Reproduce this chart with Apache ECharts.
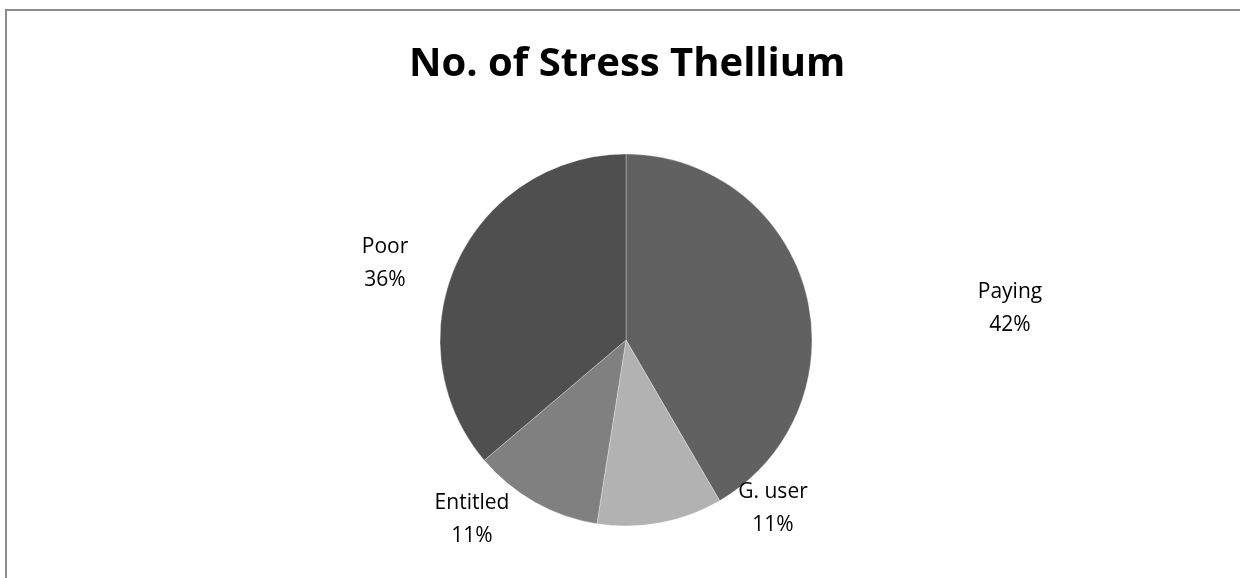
<!DOCTYPE html>
<html>
<head>
<meta charset="utf-8">
<script src="https://cdn.jsdelivr.net/npm/echarts@6/dist/echarts.min.js"></script>
<style>
  html, body { margin: 0; padding: 0; background: #fff; }
  #chart { width: 1240px; height: 578px; }
</style>
</head>
<body>
<div id="chart"></div>
<script>
// slice names and shares
const categories = ['Paying', 'G. user', 'Entitled', 'Poor']
const values = [41.6, 10.9, 11.3, 36.2]
const colors = ['#616161', '#b2b2b2', '#808080', '#4f4f4f']

// label centres (x, y) per slice
const labelPos = [[1010, 309], [773, 509], [472, 520], [385, 264]]

const chart = echarts.init(document.getElementById('chart'))

const option = {
  backgroundColor: '#fff',
  title: {
    text: 'No. of Stress Thellium',
    left: 404,
    top: 40,
    textStyle: {
      fontFamily: 'Open Sans',
      fontWeight: 'bold',
      fontSize: 40,
      color: '#000'
    }
  },
  graphic: [
    {
      type: 'polyline',
      shape: { points: [[6, 578], [6, 10], [1240, 10]] },
      style: { stroke: '#8c8c8c', lineWidth: 2, fill: null }
    }
  ],
  series: [
    {
      type: 'pie',
      center: [626, 340],
      radius: 186,
      startAngle: 90,
      clockwise: true,
      animation: false,
      silent: true,
      data: categories.map((name, i) => ({
        name: name,
        value: values[i],
        itemStyle: { color: colors[i] }
      })),
      itemStyle: {
        borderColor: 'rgba(255,255,255,0.3)',
        borderWidth: 1
      },
      label: {
        show: true,
        position: 'outside',
        formatter: p => p.name + '\n' + Math.round(p.percent) + '%',
        fontFamily: 'Open Sans',
        fontSize: 21,
        lineHeight: 33,
        color: '#000',
        align: 'center'
      },
      labelLine: { show: false },
      labelLayout: function (params) {
        const p = labelPos[params.dataIndex]
        return { x: p[0], y: p[1], align: 'center', verticalAlign: 'middle' }
      }
    }
  ]
}

chart.setOption(option)
</script>
</body>
</html>
